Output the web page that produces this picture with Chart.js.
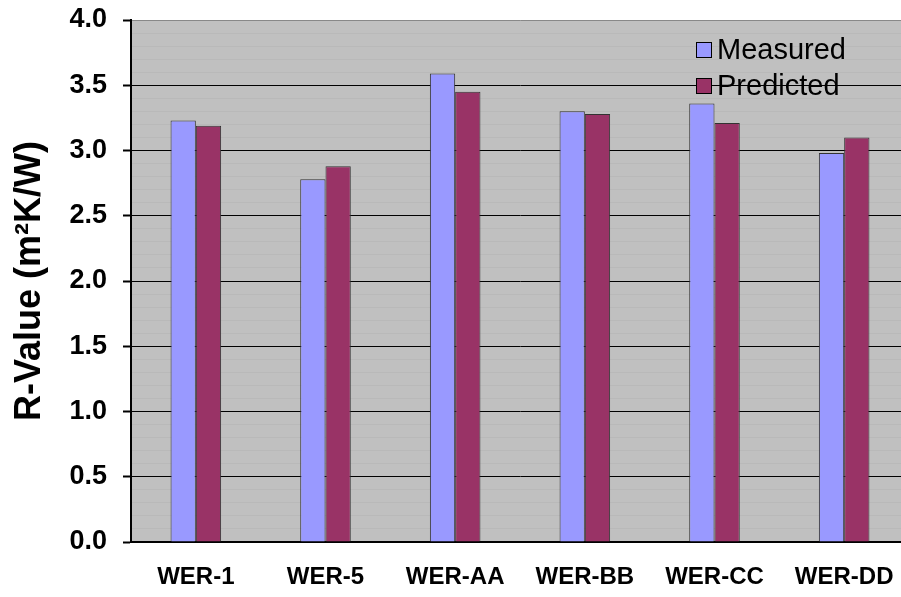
<!DOCTYPE html>
<html>
<head>
<meta charset="utf-8">
<script src="https://cdn.jsdelivr.net/npm/chart.js@4.4.1/dist/chart.umd.min.js"></script>
<style>
  html, body { margin: 0; padding: 0; background: #ffffff; overflow: hidden; }
  #wrap { width: 901px; height: 597px; overflow: hidden; }
  #chart { display: block; }
</style>
</head>
<body>
<!-- the plot runs a few pixels past the right edge of the visible frame -->
<div id="wrap"><canvas id="chart" width="909" height="597"></canvas></div>
<script>
// Wall specimens and their R-values (m²K/W)
const categories = ['WER-1', 'WER-5', 'WER-AA', 'WER-BB', 'WER-CC', 'WER-DD'];
const measured  = [3.23, 2.78, 3.59, 3.30, 3.36, 2.98];
const predicted = [3.19, 2.88, 3.45, 3.28, 3.21, 3.10];
const seriesNames = ['Measured', 'Predicted'];
const yTickMin = 0;
const yTickMax = 4;

const FONT = "'Liberation Sans', Arial, Helvetica, sans-serif";

// Grey plotting area behind the bars
const plotBackground = {
  id: 'plotBackground',
  beforeDraw(chart) {
    const { ctx, chartArea: a } = chart;
    ctx.save();
    ctx.fillStyle = '#c0c0c0';
    ctx.fillRect(a.left, a.top, a.right - a.left, a.bottom - a.top);
    ctx.restore();
  }
};

// Legend drawn inside the plot, upper right
const insideLegend = {
  id: 'insideLegend',
  afterDraw(chart) {
    const { ctx } = chart;
    const x = 696.5, y0 = 42.5, gap = 36, box = 15;
    ctx.save();
    chart.data.datasets.forEach((ds, i) => {
      const y = y0 + i * gap;
      ctx.fillStyle = ds.backgroundColor;
      ctx.fillRect(x, y, box, box);
      ctx.strokeStyle = '#000000';
      ctx.lineWidth = 1;
      ctx.strokeRect(x, y, box, box);
      ctx.fillStyle = '#000000';
      ctx.font = '29px ' + FONT;
      ctx.textBaseline = 'middle';
      ctx.textAlign = 'left';
      ctx.fillText(ds.label, 717, y + 8.5);
    });
    ctx.restore();
  }
};

const isMajor = v => Math.round(v * 10) % 5 === 0;

new Chart(document.getElementById('chart'), {
  type: 'bar',
  data: {
    labels: categories,
    datasets: [
      { label: seriesNames[0], data: measured,  backgroundColor: '#9999ff', borderColor: '#333333', borderWidth: 1 },
      { label: seriesNames[1], data: predicted, backgroundColor: '#993366', borderColor: '#333333', borderWidth: 1 }
    ]
  },
  options: {
    responsive: false,
    animation: false,
    devicePixelRatio: 1,
    layout: { padding: { top: 20, right: 0, left: 0, bottom: 0 } },
    datasets: { bar: { categoryPercentage: 0.39, barPercentage: 1.0 } },
    plugins: { legend: { display: false }, tooltip: { enabled: false } },
    scales: {
      x: {
        grid: { display: false, drawTicks: false },
        border: { display: true, color: '#000000', width: 2 },
        ticks: { color: '#000000', padding: 21, font: { family: FONT, size: 24, weight: 'bold' } },
        afterFit(scale) {
          scale.height = 55;
          scale.paddingLeft = 0;
          scale.paddingRight = 0;
        }
      },
      y: {
        min: yTickMin,
        max: yTickMax,
        ticks: {
          stepSize: 0.1,
          autoSkip: false,
          color: '#000000',
          padding: 16,
          font: { family: FONT, size: 27, weight: 'bold' },
          callback: v => isMajor(v) ? Number(v).toFixed(1) : ''
        },
        grid: {
          drawTicks: true,
          tickLength: 8,
          lineWidth: 1,
          color: c => {
            const v = c.tick ? c.tick.value : 0;
            if (Math.round(v * 10) === 40) return '#888888';
            return isMajor(v) ? '#000000' : '#b9b9b9';
          },
          tickColor: c => (c.tick && isMajor(c.tick.value)) ? '#000000' : 'rgba(0,0,0,0)',
          tickWidth: 2
        },
        border: { display: true, color: '#000000', width: 2 },
        title: {
          display: true,
          text: 'R-Value (m²K/W)',
          color: '#000000',
          font: { family: FONT, size: 36, weight: 'bold' },
          padding: { top: 8, bottom: 0 }
        },
        afterFit(scale) {
          scale.width = 131;
          scale.paddingTop = 0;
          scale.paddingBottom = 0;
        }
      }
    }
  },
  plugins: [plotBackground, insideLegend]
});
</script>
</body>
</html>
